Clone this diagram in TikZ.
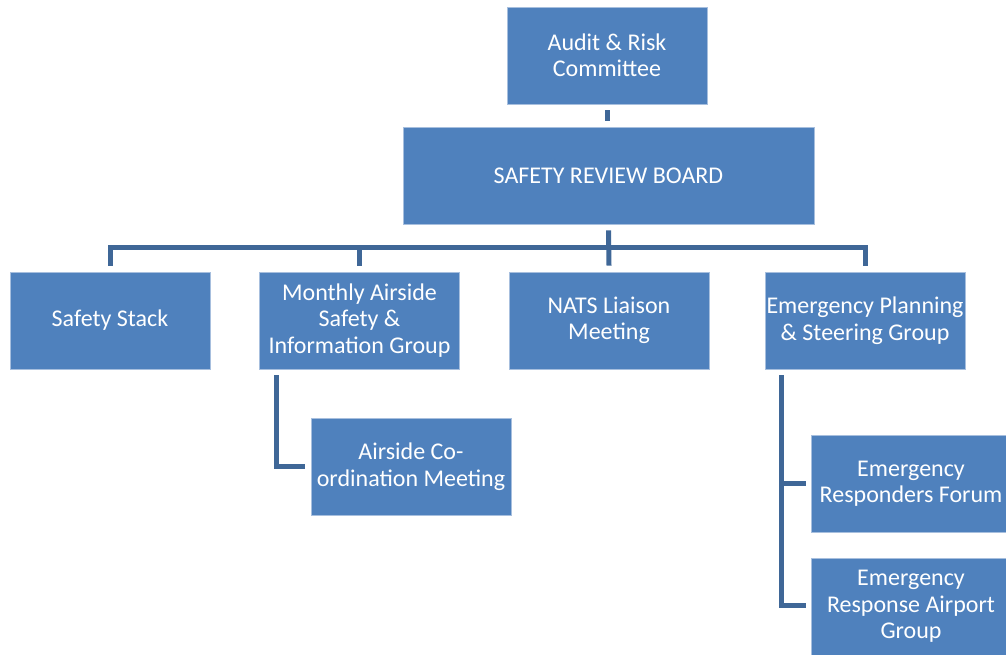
\documentclass[tikz,border=0pt]{standalone}
\usepackage{fontspec}
\setmainfont{Carlito}
\usetikzlibrary{calc}
\definecolor{boxblue}{HTML}{4F81BD}
\definecolor{boxedge}{HTML}{A7BFDE}
\definecolor{linkblue}{HTML}{3F6797}
\tikzset{
  orgbox/.style={rectangle, fill=boxblue, draw=boxedge, line width=0.8pt,
    minimum width=200pt, minimum height=97pt, inner sep=0pt, align=center,
    text=white, font=\fontsize{24}{26.5}\selectfont},
  link/.style={draw=linkblue, line width=5pt, line join=miter}
}
\begin{document}
\begin{tikzpicture}[x=1pt,y=-1pt]
\useasboundingbox (0,0) rectangle (1006,655);
\clip (0,0) rectangle (1006,655);
\fill[white] (0,0) rectangle (1006,655);
% nodes
\node[orgbox] (audit) at (607,55.5) {Audit \& Risk\\Committee};
\node[orgbox, minimum width=411pt] (srb) at (608.5,175.5) {SAFETY REVIEW BOARD};
\node[orgbox] (stack) at (110,320.5) {Safety Stack};
\node[orgbox] (monthly) at (359.5,320.5) {Monthly Airside\\Safety \&\\Information Group};
\node[orgbox] (nats) at (609,320.5) {NATS Liaison\\Meeting};
\node[orgbox] (epsg) at (865,320.5) {Emergency Planning\\\& Steering Group};
\node[orgbox] (airside) at (411,466.5) {Airside Co-\\ordination Meeting};
\node[orgbox] (erf) at (911,483.5) {Emergency\\Responders Forum};
\node[orgbox] (erag) at (911,606.5) {Emergency\\Response Airport\\Group};
% connectors
\draw[link] ($(audit.south)+(0,6)$) -- ($(audit.south |- srb.north)+(0,-6)$);
\coordinate (barL) at ($(stack.north)+(0,-24)$);
\coordinate (barR) at ($(epsg.north)+(0,-24)$);
\draw[link] ($(stack.north)+(0,-6)$) -- (barL) -- (barR) -- ($(epsg.north)+(0,-6)$);
\draw[link] ($(srb.south)+(0,6)$) -- ($(nats.north)+(0,-6)$);
\draw[link] ($(monthly.north)+(0,-6)$) -- ($(monthly.north)+(0,-24)$);
\coordinate (mtop) at ($(monthly.south west)+(17.5,6)$);
\draw[link] (mtop) |- ($(airside.west)+(-6,0)$);
\coordinate (etop) at ($(epsg.south west)+(17,6)$);
\draw[link] (etop) |- ($(erag.west)+(-5,-1.5)$);
\draw[link] (etop |- erf.west) -- ($(erf.west)+(-5,0)$);
\end{tikzpicture}
\end{document}
